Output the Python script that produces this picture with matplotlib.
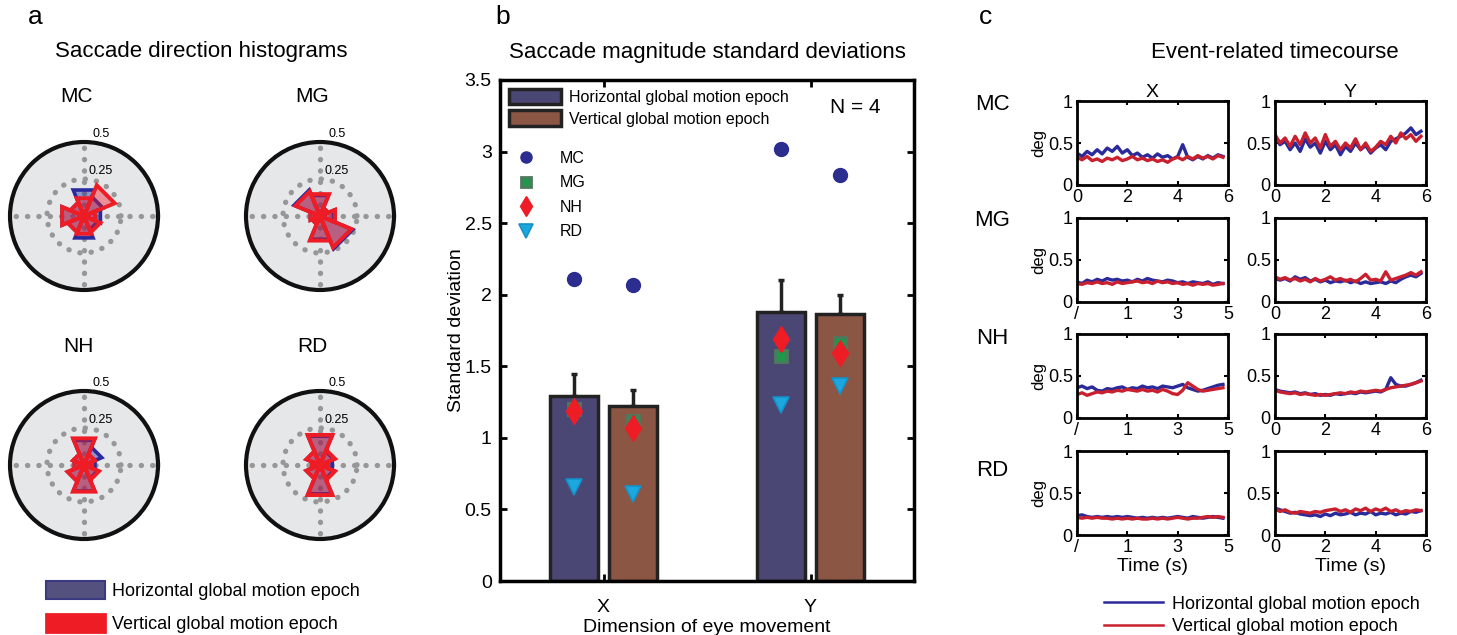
import numpy as np
import matplotlib
matplotlib.use('Agg')
import matplotlib.pyplot as plt
from matplotlib.patches import Patch
from matplotlib.lines import Line2D

plt.rcParams['font.family'] = ['Liberation Sans', 'DejaVu Sans']

# ---------------- data ----------------
# (a) rose histograms: 8 direction bins (deg), proportion of saccades
bin_centers_deg = [0, 45, 90, 135, 180, 225, 270, 315]
rose_subjects = ['MC', 'MG', 'NH', 'RD']
rose_MC_horiz = [0.12, 0.14, 0.19, 0.10, 0.16, 0.12, 0.16, 0.10]
rose_MC_vert = [0.08, 0.225, 0.13, 0.10, 0.16, 0.12, 0.13, 0.12]
rose_MG_horiz = [0.10, 0.06, 0.15, 0.19, 0.07, 0.06, 0.17, 0.24]
rose_MG_vert = [0.11, 0.06, 0.16, 0.18, 0.07, 0.06, 0.18, 0.23]
rose_NH_horiz = [0.08, 0.13, 0.18, 0.08, 0.07, 0.12, 0.19, 0.10]
rose_NH_vert = [0.06, 0.08, 0.195, 0.08, 0.07, 0.12, 0.195, 0.11]
rose_RD_horiz = [0.09, 0.10, 0.21, 0.10, 0.06, 0.10, 0.21, 0.10]
rose_RD_vert = [0.06, 0.11, 0.22, 0.10, 0.06, 0.10, 0.22, 0.11]

# (b) saccade magnitude SD
dims = ['X', 'Y']
bar_horiz = [1.29, 1.88]
bar_vert = [1.22, 1.865]
err_horiz = [0.155, 0.22]
err_vert = [0.115, 0.13]
mc_horiz = [2.11, 3.015]
mc_vert = [2.065, 2.835]
mg_horiz = [1.20, 1.575]
mg_vert = [1.12, 1.66]
nh_horiz = [1.19, 1.69]
nh_vert = [1.07, 1.59]
rd_horiz = [0.66, 1.23]
rd_vert = [0.61, 1.36]

# (c) event-related timecourses (deg), sampled every 0.2 s
t_06 = [round(0.2 * i, 1) for i in range(30)]          # 0 .. 5.8
t_m15 = [round(-1 + 0.2 * i, 1) for i in range(30)]    # -1 .. 4.8

mc_x_h = [0.38, 0.34, 0.40, 0.36, 0.42, 0.37, 0.44, 0.40, 0.46, 0.38, 0.42, 0.35, 0.38, 0.33, 0.36,
          0.32, 0.37, 0.33, 0.35, 0.31, 0.34, 0.48, 0.33, 0.30, 0.34, 0.31, 0.35, 0.32, 0.36, 0.34]
mc_x_v = [0.33, 0.30, 0.34, 0.29, 0.31, 0.28, 0.32, 0.30, 0.33, 0.29, 0.31, 0.34, 0.30, 0.32, 0.29,
          0.31, 0.28, 0.30, 0.27, 0.31, 0.33, 0.30, 0.34, 0.31, 0.35, 0.32, 0.34, 0.31, 0.35, 0.33]
mc_y_h = [0.58, 0.48, 0.52, 0.42, 0.50, 0.40, 0.55, 0.45, 0.50, 0.38, 0.52, 0.42, 0.48, 0.36, 0.46,
          0.40, 0.50, 0.42, 0.47, 0.38, 0.44, 0.48, 0.42, 0.52, 0.55, 0.58, 0.62, 0.68, 0.60, 0.64]
mc_y_v = [0.60, 0.50, 0.56, 0.46, 0.58, 0.48, 0.62, 0.50, 0.56, 0.44, 0.60, 0.46, 0.52, 0.42, 0.50,
          0.44, 0.55, 0.42, 0.50, 0.40, 0.45, 0.52, 0.48, 0.58, 0.50, 0.62, 0.55, 0.60, 0.52, 0.58]
mg_x_h = [0.24, 0.22, 0.26, 0.24, 0.27, 0.25, 0.28, 0.26, 0.27, 0.25, 0.26, 0.24, 0.27, 0.25, 0.28,
          0.26, 0.25, 0.24, 0.26, 0.25, 0.23, 0.24, 0.22, 0.24, 0.23, 0.22, 0.24, 0.21, 0.23, 0.22]
mg_x_v = [0.22, 0.21, 0.23, 0.22, 0.24, 0.22, 0.23, 0.21, 0.24, 0.22, 0.23, 0.24, 0.25, 0.23, 0.24,
          0.22, 0.25, 0.23, 0.24, 0.22, 0.23, 0.21, 0.22, 0.20, 0.22, 0.21, 0.22, 0.20, 0.21, 0.22]
mg_y_h = [0.28, 0.26, 0.28, 0.25, 0.30, 0.27, 0.29, 0.25, 0.27, 0.24, 0.26, 0.23, 0.25, 0.24, 0.26,
          0.23, 0.25, 0.22, 0.24, 0.22, 0.23, 0.24, 0.22, 0.25, 0.23, 0.27, 0.30, 0.32, 0.30, 0.34]
mg_y_v = [0.30, 0.27, 0.29, 0.26, 0.28, 0.25, 0.27, 0.24, 0.28, 0.25, 0.27, 0.30, 0.26, 0.28, 0.25,
          0.27, 0.24, 0.28, 0.33, 0.26, 0.27, 0.25, 0.36, 0.26, 0.28, 0.30, 0.32, 0.35, 0.32, 0.36]
nh_x_h = [0.36, 0.38, 0.35, 0.37, 0.33, 0.32, 0.35, 0.34, 0.36, 0.37, 0.34, 0.36, 0.35, 0.38, 0.36,
          0.37, 0.35, 0.38, 0.37, 0.36, 0.38, 0.40, 0.36, 0.34, 0.32, 0.33, 0.35, 0.37, 0.39, 0.40]
nh_x_v = [0.28, 0.30, 0.27, 0.29, 0.31, 0.30, 0.32, 0.31, 0.33, 0.32, 0.34, 0.33, 0.32, 0.34, 0.32,
          0.33, 0.31, 0.34, 0.32, 0.29, 0.28, 0.33, 0.42, 0.38, 0.34, 0.32, 0.33, 0.34, 0.35, 0.36]
nh_y_h = [0.34, 0.32, 0.31, 0.30, 0.31, 0.29, 0.30, 0.28, 0.29, 0.27, 0.28, 0.27, 0.29, 0.28, 0.29,
          0.30, 0.29, 0.31, 0.30, 0.31, 0.32, 0.31, 0.34, 0.48, 0.40, 0.38, 0.38, 0.40, 0.42, 0.45]
nh_y_v = [0.33, 0.31, 0.30, 0.29, 0.30, 0.28, 0.29, 0.28, 0.27, 0.28, 0.27, 0.28, 0.29, 0.30, 0.29,
          0.31, 0.30, 0.32, 0.31, 0.32, 0.33, 0.32, 0.34, 0.36, 0.37, 0.38, 0.39, 0.40, 0.42, 0.44]
rd_x_h = [0.23, 0.24, 0.22, 0.21, 0.22, 0.21, 0.22, 0.21, 0.22, 0.21, 0.22, 0.21, 0.20, 0.21, 0.20,
          0.21, 0.20, 0.21, 0.20, 0.21, 0.22, 0.21, 0.20, 0.22, 0.21, 0.20, 0.21, 0.22, 0.21, 0.20]
rd_x_v = [0.21, 0.20, 0.21, 0.20, 0.21, 0.20, 0.20, 0.19, 0.20, 0.19, 0.20, 0.19, 0.20, 0.19, 0.19,
          0.20, 0.19, 0.20, 0.19, 0.20, 0.21, 0.20, 0.19, 0.20, 0.20, 0.21, 0.22, 0.21, 0.22, 0.21]
rd_y_h = [0.32, 0.30, 0.28, 0.26, 0.27, 0.25, 0.24, 0.23, 0.24, 0.22, 0.25, 0.23, 0.26, 0.24, 0.25,
          0.27, 0.24, 0.26, 0.25, 0.28, 0.24, 0.26, 0.25, 0.27, 0.24, 0.26, 0.25, 0.28, 0.27, 0.29]
rd_y_v = [0.31, 0.28, 0.30, 0.27, 0.26, 0.28, 0.27, 0.26, 0.28, 0.27, 0.29, 0.30, 0.31, 0.28, 0.30,
          0.27, 0.31, 0.29, 0.32, 0.28, 0.31, 0.29, 0.32, 0.28, 0.30, 0.27, 0.29, 0.28, 0.30, 0.29]

left_tick_pos_06 = [0, 2, 4, 6]
left_tick_lab_06 = ['0', '2', '4', '6']
left_tick_pos_m15 = [-1, 1, 3, 5]
left_tick_lab_m15 = ['/', '1', '3', '5']

# ---------------- style ----------------
BLUE_EDGE = '#2a2a9e'
RED = '#ee1c25'
BAR_BLUE = '#4b4775'
BAR_BROWN = '#8c5645'
TC_BLUE = '#2a2a9a'
TC_RED = '#c8202e'

W, H = 1457, 635
fig = plt.figure(figsize=(W / 100, H / 100), dpi=100)


def box(l, t, r, b):
    return [l / W, 1 - b / H, (r - l) / W, (b - t) / H]


def fx(x):
    return x / W


def fy(y):
    return 1 - y / H


# ---------------- panel a ----------------
fig.text(fx(35), fy(17), 'a', fontsize=19, ha='center', va='center')
fig.text(fx(201), fy(52), 'Saccade direction histograms', fontsize=16, ha='center', va='center')

rose_data = {
    'MC': (rose_MC_horiz, rose_MC_vert),
    'MG': (rose_MG_horiz, rose_MG_vert),
    'NH': (rose_NH_horiz, rose_NH_vert),
    'RD': (rose_RD_horiz, rose_RD_vert),
}
centers = {'MC': (84, 216), 'MG': (320, 216), 'NH': (84, 465), 'RD': (320, 465)}
label_pos = {'MC': (77, 97), 'MG': (312, 97), 'NH': (78, 347), 'RD': (312, 347)}
R = 74
half = np.deg2rad(22.5)


def rose_path(vals):
    th, rr = [], []
    for c, v in zip(bin_centers_deg, vals):
        tc = np.deg2rad(c)
        th += [tc - half, tc - half, tc + half, tc + half]
        rr += [0, v, v, 0]
    th.append(th[0])
    rr.append(rr[0])
    return th, rr


for s in rose_subjects:
    cx, cy = centers[s]
    ax = fig.add_axes(box(cx - R, cy - R, cx + R, cy + R), projection='polar')
    ax.set_facecolor('#e6e7e9')
    ax.set_ylim(0, 0.5)
    ax.set_yticks([0.25])
    ax.set_yticklabels([])
    ax.set_xticks(np.deg2rad([0, 90, 180, 270]))
    ax.set_xticklabels([])
    ax.grid(True, color='#979797', linestyle=(0, (0.05, 2.1)), linewidth=3.8,
            dash_capstyle='round')
    ax.spines['polar'].set_linewidth(3)
    ax.spines['polar'].set_color('#111111')
    hv, vv = rose_data[s]
    th, rr = rose_path(hv)
    ax.fill(th, rr, facecolor='#2b2b9b', alpha=0.45, zorder=3)
    ax.plot(th, rr, color=BLUE_EDGE, lw=2.6, zorder=4, solid_joinstyle='miter')
    th, rr = rose_path(vv)
    ax.fill(th, rr, facecolor=RED, alpha=0.42, zorder=5)
    ax.plot(th, rr, color=RED, lw=2.8, zorder=6, solid_joinstyle='miter')
    ax.text(np.deg2rad(78), 0.566, '0.5', fontsize=9, ha='center', va='center', clip_on=False)
    ax.text(np.deg2rad(70), 0.32, '0.25', fontsize=9, ha='center', va='center', zorder=7)
    lx, ly = label_pos[s]
    fig.text(fx(lx), fy(ly), s, fontsize=15, ha='center', va='center')

fig.legend(handles=[Patch(facecolor='#55517f', edgecolor='#3b3a80', lw=1.5),
                    Patch(facecolor=RED, edgecolor=RED, lw=2)],
           labels=['Horizontal global motion epoch', 'Vertical global motion epoch'],
           loc='upper left', bbox_to_anchor=(fx(33), fy(568)), frameon=False,
           fontsize=13, handlelength=3.3, handleheight=1.2, labelspacing=0.75,
           handletextpad=0.4, borderpad=0.2)

# ---------------- panel b ----------------
fig.text(fx(503), fy(17), 'b', fontsize=19, ha='center', va='center')
axb = fig.add_axes(box(500, 80, 914, 581))
axb.set_title('Saccade magnitude standard deviations', fontsize=16, pad=16)
x = np.arange(1, len(dims) + 1)
off, w = 0.143, 0.232
axb.errorbar(x - off, bar_horiz, yerr=[[0] * len(dims), err_horiz], fmt='none',
             ecolor='#222222', elinewidth=2.5, capsize=2, capthick=2.5, zorder=1)
axb.errorbar(x + off, bar_vert, yerr=[[0] * len(dims), err_vert], fmt='none',
             ecolor='#222222', elinewidth=2.5, capsize=2, capthick=2.5, zorder=1)
b1 = axb.bar(x - off, bar_horiz, w, color=BAR_BLUE, edgecolor='#222222', lw=2.5,
             label='Horizontal global motion epoch', zorder=2)
b2 = axb.bar(x + off, bar_vert, w, color=BAR_BROWN, edgecolor='#222222', lw=2.5,
             label='Vertical global motion epoch', zorder=2)

mk = dict(ls='none', zorder=5)
m1, = axb.plot(x - off, mc_horiz, 'o', color='#2b2d8f', ms=10, label='MC', **mk)
axb.plot(x + off, mc_vert, 'o', color='#2b2d8f', ms=10, **mk)
m2, = axb.plot(x - off, mg_horiz, 's', mfc='#1a9a4a', mec='#4d7a5d', mew=2, ms=8.5, label='MG', **mk)
axb.plot(x + off, mg_vert, 's', mfc='#1a9a4a', mec='#4d7a5d', mew=2, ms=8.5, **mk)
m3, = axb.plot(x - off, nh_horiz, 'd', color=RED, ms=13, label='NH', **mk)
axb.plot(x + off, nh_vert, 'd', color=RED, ms=13, **mk)
m4, = axb.plot(x - off, rd_horiz, 'v', mfc='#1aa8de', mec='#1590c8', mew=1.2, ms=12, label='RD', **mk)
axb.plot(x + off, rd_vert, 'v', mfc='#1aa8de', mec='#1590c8', mew=1.2, ms=12, **mk)

axb.set_xlim(0.5, 2.5)
axb.set_ylim(0, 3.5)
axb.set_xticks(x)
axb.set_xticklabels(dims, fontsize=14)
yt = [0, 0.5, 1, 1.5, 2, 2.5, 3, 3.5]
axb.set_yticks(yt)
axb.set_yticklabels(['0', '0.5', '1', '1.5', '2', '2.5', '3', '3.5'], fontsize=14)
axb.tick_params(direction='in', length=5, width=2, top=True, right=True, pad=6)
axb.tick_params(axis='x', pad=13)
for sp in axb.spines.values():
    sp.set_linewidth(2.5)
axb.set_ylabel('Standard deviation', fontsize=14, labelpad=0)
axb.set_xlabel('Dimension of eye movement', fontsize=14, labelpad=2)
axb.text(0.92, 0.945, 'N = 4', transform=axb.transAxes, fontsize=15, ha='right', va='center')

leg1 = axb.legend(handles=[b1, b2], loc='upper left', bbox_to_anchor=(0.0, 1.0),
                  frameon=False, fontsize=11.5, handlelength=3.3, handleheight=1.1,
                  labelspacing=0.35, handletextpad=0.45, borderpad=0.35, borderaxespad=0.2)
axb.add_artist(leg1)
axb.legend(handles=[m1, m2, m3, m4], loc='upper left', bbox_to_anchor=(0.005, 0.875),
           frameon=False, fontsize=11.5, handlelength=2.0, labelspacing=0.6,
           handletextpad=1.1, borderpad=0.3, borderaxespad=0.2, markerscale=0.8)

# ---------------- panel c ----------------
fig.text(fx(985), fy(17), 'c', fontsize=19, ha='center', va='center')
fig.text(fx(1275), fy(52), 'Event-related timecourse', fontsize=16, ha='center', va='center')

rows = ['MC', 'MG', 'NH', 'RD']
row_tops = [101, 218, 334, 451]
row_label_y = [104, 221, 338, 470]
traces = {
    'MC': ((t_06, mc_x_h, mc_x_v), (t_06, mc_y_h, mc_y_v)),
    'MG': ((t_m15, mg_x_h, mg_x_v), (t_06, mg_y_h, mg_y_v)),
    'NH': ((t_m15, nh_x_h, nh_x_v), (t_06, nh_y_h, nh_y_v)),
    'RD': ((t_m15, rd_x_h, rd_x_v), (t_06, rd_y_h, rd_y_v)),
}
cols = [(1077, 1228), (1275, 1426)]
for ri, s in enumerate(rows):
    top = row_tops[ri]
    fig.text(fx(992), fy(row_label_y[ri]), s, fontsize=16, ha='center', va='center')
    for ci, (l, r) in enumerate(cols):
        ax = fig.add_axes(box(l, top, r, top + 84))
        tt, hvals, vvals = traces[s][ci]
        ax.plot(tt, hvals, color=TC_BLUE, lw=2.4)
        ax.plot(tt, vvals, color=TC_RED, lw=2.4)
        ax.set_ylim(0, 1)
        ax.set_yticks([0, 0.5, 1])
        ax.set_yticklabels(['0', '0.5', '1'], fontsize=13)
        if ci == 0 and s != 'MC':
            ax.set_xlim(-1, 5)
            ax.set_xticks(left_tick_pos_m15)
            ax.set_xticklabels(left_tick_lab_m15, fontsize=13)
        else:
            ax.set_xlim(0, 6)
            ax.set_xticks(left_tick_pos_06)
            ax.set_xticklabels(left_tick_lab_06, fontsize=13)
        ax.tick_params(direction='in', length=3, width=1.5, top=True, right=True, pad=3)
        for sp in ax.spines.values():
            sp.set_linewidth(2)
        if ci == 0:
            ax.set_ylabel('deg', fontsize=12, labelpad=1)
        if ri == 0:
            ax.set_title('X' if ci == 0 else 'Y', fontsize=14, pad=3)
        if ri == len(rows) - 1:
            ax.set_xlabel('Time (s)', fontsize=14, labelpad=1)

fig.legend(handles=[Line2D([], [], color=TC_BLUE, lw=1.8), Line2D([], [], color=TC_RED, lw=1.8)],
           labels=['Horizontal global motion epoch', 'Vertical global motion epoch'],
           loc='upper left', bbox_to_anchor=(fx(1091), fy(583)), frameon=False,
           fontsize=13, handlelength=3.3, labelspacing=0.3, handletextpad=0.5, borderpad=0.2)

fig.savefig('out.png', dpi=100)
